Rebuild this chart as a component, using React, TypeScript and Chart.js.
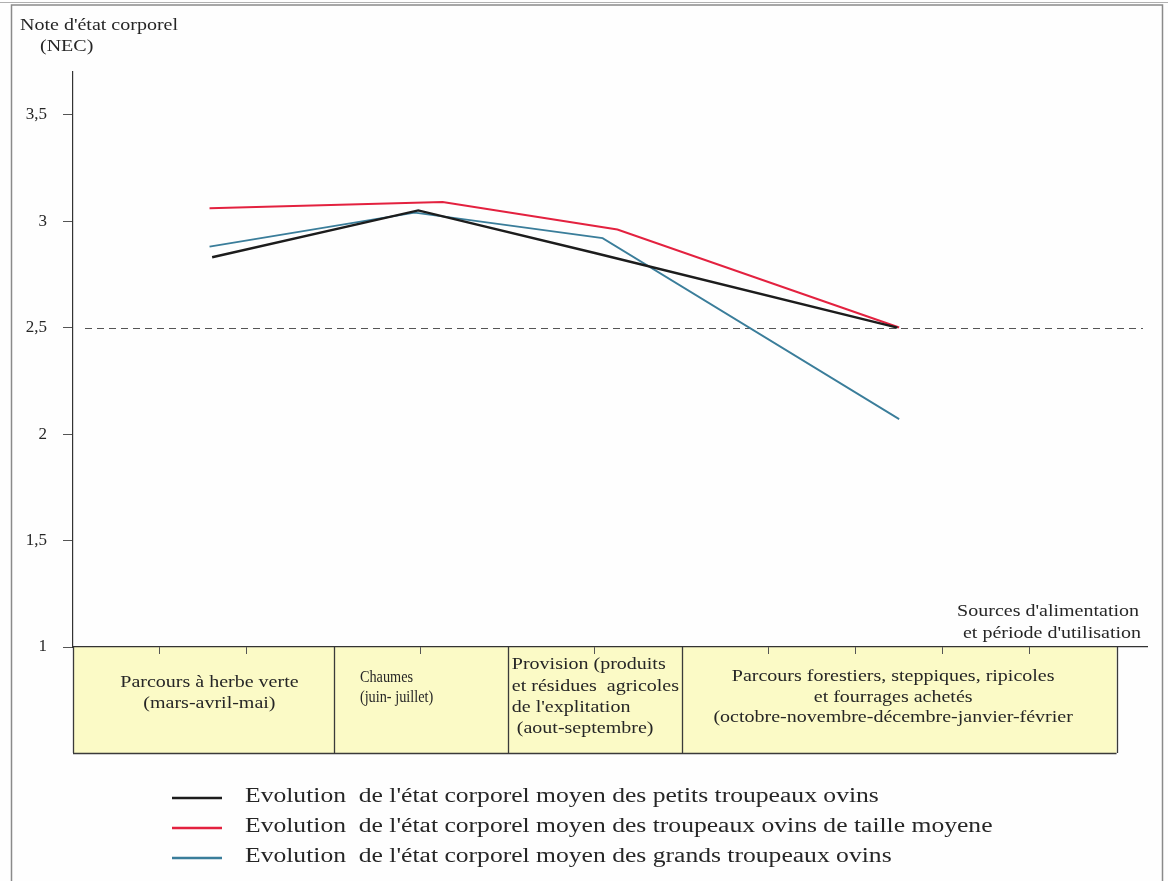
import React, { useEffect, useRef } from "react";
import { Chart, registerables } from "chart.js";

Chart.register(...registerables);

// ---- data ----
const SERIES_LABELS = [
  "Evolution  de l'état corporel moyen des petits troupeaux ovins",
  "Evolution  de l'état corporel moyen des troupeaux ovins de taille moyene",
  "Evolution  de l'état corporel moyen des grands troupeaux ovins",
];
// x = months elapsed since the start of March
const PETITS_X = [1.6, 3.97, 6.0, 9.48];
const PETITS_Y = [2.83, 3.05, 2.85, 2.5];
const MOYENS_X = [1.57, 4.25, 6.26, 9.5];
const MOYENS_Y = [3.06, 3.09, 2.96, 2.5];
const GRANDS_X = [1.57, 3.93, 6.09, 9.5];
const GRANDS_Y = [2.88, 3.04, 2.92, 2.07];

const Y_MIN = 1;
const Y_MAX = 3.7;
const Y_STEP = 0.5;
const X_MIN = 0;
const X_MAX = 12.35;
const MONTH_TICKS = [1, 2, 4, 6, 8, 9, 10, 11];
const PERIOD_BOUNDS = [0, 3, 5, 7, 12];
const PERIOD_LABELS = [
  ["Parcours à herbe verte", "(mars-avril-mai)"],
  ["Chaumes", "(juin- juillet)"],
  ["Provision (produits", "et résidues  agricoles", "de l'explitation", " (aout-septembre)"],
  [
    "Parcours forestiers, steppiques, ripicoles",
    "et fourrages achetés",
    "(octobre-novembre-décembre-janvier-février",
  ],
];
const THRESHOLD = 2.5;
const Y_TITLE = ["Note d'état corporel", "(NEC)"];
const X_TITLE = ["Sources d'alimentation", "et période d'utilisation"];

const COLORS = ["#1c1c1c", "#e3213f", "#3a7d9a"];
const WIDTHS = [2.4, 2, 1.8];

const SERIF = '"Liberation Serif", "Times New Roman", serif';
const SX = 1.25; // horizontal stretch of the scanned lettering

function sText(ctx: CanvasRenderingContext2D, t: string, x: number, y: number, align: CanvasTextAlign, sx = SX) {
  ctx.save();
  ctx.translate(x, y);
  ctx.scale(sx, 1);
  ctx.textAlign = align;
  ctx.fillText(t, 0, 0);
  ctx.restore();
}

const decorPlugin = {
  id: "decor",
  beforeDraw(chart: any) {
    const { ctx, chartArea, scales } = chart;
    const x = scales.x;
    ctx.save();
    ctx.fillStyle = "#fefefe";
    ctx.fillRect(0, 0, chart.width, chart.height);

    // outer frame
    ctx.strokeStyle = "#8a8a8a";
    ctx.lineWidth = 1.5;
    ctx.beginPath();
    ctx.moveTo(11.5, 881);
    ctx.lineTo(11.5, 5);
    ctx.lineTo(1162.5, 5);
    ctx.lineTo(1162.5, 881);
    ctx.stroke();
    ctx.strokeStyle = "#b0b0b0";
    ctx.lineWidth = 1;
    ctx.beginPath();
    ctx.moveTo(0, 2.5);
    ctx.lineTo(1168, 2.5);
    ctx.stroke();

    // period table
    const top = chartArea.bottom;
    const bottom = top + 106;
    const xs = PERIOD_BOUNDS.map((b) => x.getPixelForValue(b));
    ctx.fillStyle = "#fbfac6";
    ctx.fillRect(xs[0], top, xs[xs.length - 1] - xs[0], bottom - top);
    ctx.strokeStyle = "#3a3a3a";
    ctx.lineWidth = 1.3;
    ctx.beginPath();
    xs.forEach((px) => {
      ctx.moveTo(Math.round(px) + 0.5, top);
      ctx.lineTo(Math.round(px) + 0.5, bottom);
    });
    ctx.moveTo(xs[0], bottom + 0.5);
    ctx.lineTo(xs[xs.length - 1], bottom + 0.5);
    ctx.stroke();

    const layout = [
      { align: "center", dx: 6, y0: 36, gap: 20.3, size: 16, sx: SX },
      { align: "left", dx: 26, y0: 31, gap: 20, size: 17, sx: 0.84 },
      { align: "left", dx: 4, y0: 18, gap: 21.3, size: 16, sx: SX },
      { align: "center", dx: -6, y0: 30, gap: 20.3, size: 16, sx: SX },
    ];
    ctx.fillStyle = "#262626";
    ctx.textBaseline = "middle";
    PERIOD_LABELS.forEach((lines, i) => {
      const L = layout[i];
      const left = xs[i];
      const right = xs[i + 1];
      ctx.font = `${L.size}px ${SERIF}`;
      const tx = L.align === "center" ? (left + right) / 2 + L.dx : left + L.dx;
      lines.forEach((t, j) => {
        sText(ctx, t, tx, top + L.y0 + j * L.gap, L.align as CanvasTextAlign, L.sx);
      });
    });
    ctx.restore();
  },
  beforeDatasetsDraw(chart: any) {
    const { ctx, chartArea, scales } = chart;
    const py = Math.round(scales.y.getPixelForValue(THRESHOLD)) + 0.5;
    ctx.save();
    ctx.strokeStyle = "#555";
    ctx.lineWidth = 1.2;
    ctx.setLineDash([7, 5]);
    ctx.beginPath();
    ctx.moveTo(chartArea.left + 12, py);
    ctx.lineTo(chartArea.right - 4, py);
    ctx.stroke();
    ctx.restore();
  },
  afterDraw(chart: any) {
    const { ctx } = chart;
    ctx.save();
    ctx.fillStyle = "#262626";
    ctx.textBaseline = "middle";
    // y title
    ctx.font = `16px ${SERIF}`;
    sText(ctx, Y_TITLE[0], 20, 26, "left");
    sText(ctx, Y_TITLE[1], 40, 47, "left");
    // x title
    sText(ctx, X_TITLE[0], 1139, 612, "right");
    sText(ctx, X_TITLE[1], 1141, 634, "right");
    // legend
    ctx.font = `20px ${SERIF}`;
    SERIES_LABELS.forEach((label, i) => {
      const ly = 798 + i * 30;
      ctx.strokeStyle = COLORS[i];
      ctx.lineWidth = 2.5;
      ctx.beginPath();
      ctx.moveTo(172, ly);
      ctx.lineTo(222, ly);
      ctx.stroke();
      ctx.fillStyle = "#262626";
      sText(ctx, label, 245, ly - 1, "left", 1.28);
    });
    ctx.restore();
  },
};

function toPoints(xs: number[], ys: number[]) {
  return xs.map((v, i) => ({ x: v, y: ys[i] }));
}

export default function App() {
  const ref = useRef<HTMLCanvasElement | null>(null);
  useEffect(() => {
    document.body.style.margin = "0";
    const canvas = ref.current!;
    const series = [
      toPoints(PETITS_X, PETITS_Y),
      toPoints(MOYENS_X, MOYENS_Y),
      toPoints(GRANDS_X, GRANDS_Y),
    ];
    const chart = new Chart(canvas, {
      type: "line",
      data: {
        datasets: series.map((data, i) => ({
          label: SERIES_LABELS[i],
          data,
          borderColor: COLORS[i],
          borderWidth: WIDTHS[i],
          pointRadius: 0,
          tension: 0,
          fill: false,
        })),
      },
      options: {
        animation: false,
        responsive: false,
        maintainAspectRatio: false,
        devicePixelRatio: 1,
        layout: { padding: { left: 11, right: 21, top: 72, bottom: 226 } },
        plugins: { legend: { display: false }, tooltip: { enabled: false } },
        scales: {
          x: {
            type: "linear",
            min: X_MIN,
            max: X_MAX,
            afterBuildTicks: (s: any) => {
              s.ticks = MONTH_TICKS.map((v) => ({ value: v }));
            },
            afterFit: (s: any) => {
              s.height = 8;
            },
            ticks: { display: false },
            grid: { drawOnChartArea: false, drawTicks: true, tickLength: 7, color: "#555", lineWidth: 1 },
            border: { display: true, color: "#333", width: 1.2 },
          },
          y: {
            type: "linear",
            min: Y_MIN,
            max: Y_MAX,
            afterFit: (s: any) => {
              s.width = 62;
            },
            ticks: {
              stepSize: Y_STEP,
              includeBounds: false,
              padding: 16,
              color: "#262626",
              font: { family: SERIF, size: 17 },
              callback: (v: any) => String(v).replace(".", ","),
            },
            grid: { drawOnChartArea: false, drawTicks: true, tickLength: 10, color: "#555", lineWidth: 1 },
            border: { display: true, color: "#333", width: 1.2 },
          },
        },
      } as any,
      plugins: [decorPlugin],
    });
    return () => chart.destroy();
  }, []);
  return (
    <div style={{ width: 1168, height: 881, position: "relative" }}>
      <canvas ref={ref} width={1168} height={881} style={{ display: "block" }} />
    </div>
  );
}
